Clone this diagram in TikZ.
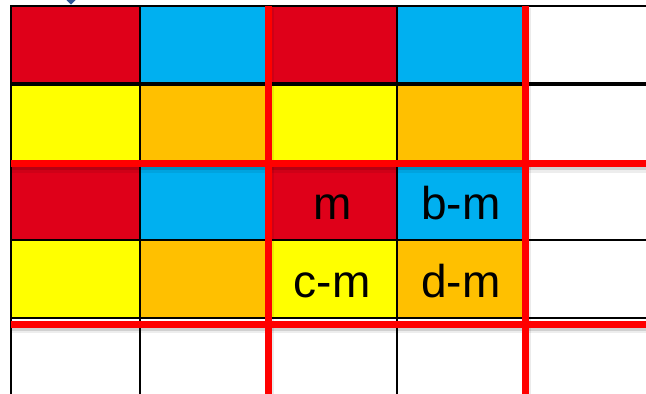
\documentclass[tikz,border=0pt]{standalone}
\usepackage{fontspec}
\setmainfont{Liberation Sans}
\definecolor{cred}{HTML}{DF0019}
\definecolor{cblue}{HTML}{00B0F0}
\definecolor{cyel}{HTML}{FFFF00}
\definecolor{corg}{HTML}{FFC000}
\definecolor{lred}{HTML}{FF0000}
\definecolor{arrblue}{HTML}{2F5597}
\begin{document}
\begin{tikzpicture}[x=1pt,y=-1pt,
  cell/.style={draw=black, line width=2pt, minimum width=128.5pt, minimum height=78pt,
    inner sep=0pt, outer sep=0pt, text height=36pt, text depth=0pt,
    font=\fontsize{46}{50}\selectfont},
  redline/.style={draw=lred, line width=7pt},
  shadowh/.style={draw=black, line width=7pt, opacity=0.12},
]
\useasboundingbox (0,0) rectangle (646,394);
\clip (0,0) rectangle (646,394);
\fill[white] (0,0) rectangle (646,394);
% row 1
\node[cell, fill=cred]  (c11) at (75.25,45) {};
\node[cell, fill=cblue] (c12) at (203.75,45) {};
\node[cell, fill=cred]  (c13) at (332.25,45) {};
\node[cell, fill=cblue] (c14) at (460.75,45) {};
\node[cell, fill=white] (c15) at (589.25,45) {};
% row 2
\node[cell, fill=cyel] (c21) at (75.25,123) {};
\node[cell, fill=corg] (c22) at (203.75,123) {};
\node[cell, fill=cyel] (c23) at (332.25,123) {};
\node[cell, fill=corg] (c24) at (460.75,123) {};
\node[cell, fill=white] (c25) at (589.25,123) {};
% row 3
\node[cell, fill=cred]  (c31) at (75.25,201) {};
\node[cell, fill=cblue] (c32) at (203.75,201) {};
\node[cell, fill=cred]  (c33) at (332.25,201) {m};
\node[cell, fill=cblue] (c34) at (460.75,201) {b-m};
\node[cell, fill=white] (c35) at (589.25,201) {};
% row 4
\node[cell, fill=cyel] (c41) at (75.25,279) {};
\node[cell, fill=corg] (c42) at (203.75,279) {};
\node[cell, fill=cyel] (c43) at (332.25,279) {c-m};
\node[cell, fill=corg] (c44) at (460.75,279) {d-m};
\node[cell, fill=white] (c45) at (589.25,279) {};
% row 5
\node[cell, fill=white] (c51) at (75.25,357) {};
\node[cell, fill=white] (c52) at (203.75,357) {};
\node[cell, fill=white] (c53) at (332.25,357) {};
\node[cell, fill=white] (c54) at (460.75,357) {};
\node[cell, fill=white] (c55) at (589.25,357) {};
% thick black line between rows 1 and 2
\draw[line width=4pt] (c21.north west) -- (c25.north east);
% red line shadows
\draw[shadowh] (11,166.5) -- (660,166.5);
\draw[shadowh, opacity=0.07] (11,169) -- (660,169);
\draw[shadowh] (11,327) -- (660,327);
\draw[shadowh, opacity=0.07] (11,329.5) -- (660,329.5);
\draw[shadowh, opacity=0.08] (270.5,8) -- (270.5,400);
\draw[shadowh, opacity=0.08] (527.5,8) -- (527.5,400);
% red lines
\draw[redline] (11,163.5) -- (660,163.5);
\draw[redline] (11,324) -- (660,324);
\draw[redline] (268.5,6) -- (268.5,400);
\draw[redline] (525.5,6) -- (525.5,400);
% partial arrowhead at top
\fill[arrblue] (66.5,0) -- (75.5,0) -- (71,4.5) -- cycle;
\end{tikzpicture}
\end{document}
